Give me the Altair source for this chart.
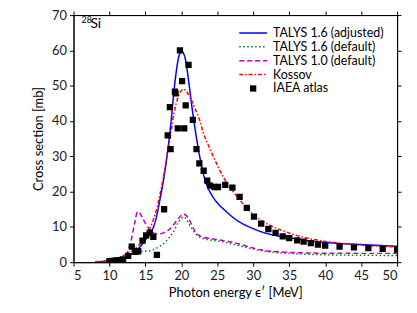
import altair as alt
import pandas as pd

# ---- data ----
SERIES = ["TALYS 1.6 (adjusted)", "TALYS 1.6 (default)", "TALYS 1.0 (default)", "Kossov"]
COLORS = ["#0000ff", "#008000", "#bf00bf", "#ff0000"]

E_ADJ = [8, 10, 11, 12, 13, 14, 15, 16, 16.5, 17, 17.5, 18, 18.5, 19, 19.5, 20, 20.5, 21, 21.5,
         22, 22.5, 23, 23.5, 24, 25, 26, 27, 28, 29, 30, 31, 32, 34, 36, 38, 40, 42, 45, 47, 50]
S_ADJ = [0.1, 0.3, 0.6, 1.0, 2.2, 3.8, 6.3, 9.3, 12.5, 17.5, 23, 30, 38.5, 49, 56.8, 59.8, 58, 51.5, 43.5,
         36.5, 30.5, 25.5, 22, 19.8, 16.8, 14.8, 13.0, 11.5, 10.4, 9.5, 8.7, 8.1, 7.2, 6.6, 6.0, 5.6, 5.3, 5.0, 4.8, 4.5]

E_T16 = [8, 10, 11, 12, 13, 14, 15, 16, 17, 18, 18.5, 19, 19.5, 20, 20.3, 20.7, 21, 21.5, 22, 22.5,
         23, 24, 25, 26, 27, 28, 29, 30, 31, 32, 34, 36, 38, 40, 43, 46, 50]
S_T16 = [0.1, 0.3, 0.6, 1.2, 2.2, 2.9, 3.1, 3.5, 4.5, 6.2, 7.5, 9.0, 11.0, 12.5, 12.8, 12.2, 11.1, 9.4, 8.0, 7.2,
         6.7, 6.3, 6.0, 5.7, 5.2, 4.7, 4.2, 3.7, 3.3, 3.0, 2.6, 2.4, 2.2, 2.1, 2.0, 1.95, 1.9]

E_T10 = [8, 10, 11, 12, 12.5, 13, 13.5, 13.9, 14.2, 14.6, 15, 15.5, 16, 16.5, 17, 17.5, 18, 18.5, 19, 19.5,
         20, 20.3, 20.7, 21, 21.5, 22, 22.5, 23, 24, 25, 26, 27, 28, 29, 30, 31, 32, 34, 36, 38, 40, 45, 50]
S_T10 = [0.1, 0.4, 0.8, 1.6, 2.8, 6.0, 11.0, 14.3, 14.0, 12.5, 11.0, 9.5, 8.5, 8.0, 8.0, 8.3, 8.8, 9.6, 10.8, 12.2,
         13.3, 13.6, 13.2, 12.4, 10.3, 8.5, 7.5, 7.1, 6.7, 6.4, 6.1, 5.7, 5.2, 4.6, 4.0, 3.5, 3.2, 2.9, 2.7, 2.6, 2.55, 2.5, 2.5]

E_KOS = [8, 9, 10, 11, 12, 13, 14, 15, 16, 16.5, 17, 17.5, 18, 18.5, 19, 19.5, 20, 20.3, 21, 22, 22.5,
         23, 24, 25, 26, 27, 28, 29, 30, 31, 32, 33, 34, 36, 38, 40, 42, 44, 46, 48, 50]
S_KOS = [0.1, 0.3, 0.6, 1.1, 1.9, 3.0, 4.6, 7.0, 11.5, 14.5, 19, 24, 30, 36, 42.5, 46.5, 48.6, 49, 47.5, 43, 40.5,
         37, 32, 27.5, 23.5, 20.5, 18, 15.5, 13.5, 12, 10.8, 9.8, 9.0, 7.6, 6.6, 5.9, 5.4, 5.0, 4.7, 4.5, 4.3]

IAEA_E = [10.0, 10.4, 10.9, 11.4, 11.9, 12.6, 13.1, 13.6, 14.0, 14.6, 15.1, 15.6, 16.1, 16.6, 17.6,
          18.1, 18.5, 18.4, 19.1, 19.2, 19.5, 19.8, 20.1, 20.4, 20.6, 21.0, 21.6, 22.1, 22.5, 23.1,
          23.6, 24.0, 24.6, 25.1, 26.1, 27.1, 28.1, 29.1, 30.1, 31.1, 32.1, 33.1, 34.1, 35.0, 36.1,
          37.0, 38.0, 39.0, 40.0, 42.0, 44.0, 46.0, 48.0, 50.0]
IAEA_S = [0.3, 0.4, 0.5, 0.6, 0.8, 1.8, 4.4, 2.9, 3.1, 6.1, 7.6, 8.4, 7.2, 2.1, 15.0,
          35.9, 32.0, 43.9, 48.3, 47.8, 37.9, 60.0, 51.3, 37.9, 44.4, 55.9, 40.3, 32.0, 28.0, 25.9,
          23.1, 21.7, 21.3, 21.3, 21.9, 21.1, 18.5, 15.4, 12.9, 10.9, 9.4, 8.3, 7.3, 6.8, 6.2,
          5.8, 5.4, 5.0, 4.7, 4.4, 4.2, 4.0, 3.8, 3.6]

X_TICKS = [5, 10, 15, 20, 25, 30, 35, 40, 45, 50]
Y_TICKS = [0, 10, 20, 30, 40, 50, 60, 70]

DASHES = [[1, 0], [1.5, 2.5], [5, 3], [4, 2, 1.5, 2]]
FONT = "Lato"

rows = []
for name, es, ss in zip(SERIES, [E_ADJ, E_T16, E_T10, E_KOS], [S_ADJ, S_T16, S_T10, S_KOS]):
    for e, s in zip(es, ss):
        rows.append({"series": name, "E": e, "S": s})
curves = pd.DataFrame(rows)
iaea = pd.DataFrame({"E": IAEA_E, "S": IAEA_S})
one = pd.DataFrame({"k": [0]})

xscale = alt.Scale(domain=[5, 50], nice=False, zero=False)
yscale = alt.Scale(domain=[0, 70], nice=False)

lines = alt.Chart(curves).mark_line(strokeWidth=1.5, interpolate="monotone", clip=True).encode(
    x=alt.X("E:Q", scale=xscale,
            axis=alt.Axis(title="Photon energy ϵ′ [MeV]", values=X_TICKS, labelPadding=3, titlePadding=5)),
    y=alt.Y("S:Q", scale=yscale,
            axis=alt.Axis(title="Cross section [mb]", values=Y_TICKS, labelPadding=3, titlePadding=6)),
    color=alt.Color("series:N", scale=alt.Scale(domain=SERIES, range=COLORS), legend=None),
    strokeDash=alt.StrokeDash("series:N", scale=alt.Scale(domain=SERIES, range=DASHES), legend=None),
    order=alt.Order("E:Q"),
)

points = alt.Chart(iaea).mark_point(shape="square", filled=True, size=40, color="black",
                                    opacity=1, clip=True).encode(
    x=alt.X("E:Q", scale=xscale,
            axis=alt.Axis(orient="top", labels=False, title=None, values=X_TICKS)),
    y=alt.Y("S:Q", scale=yscale,
            axis=alt.Axis(orient="right", labels=False, title=None, values=Y_TICKS)),
)

# ---- manual legend (upper right) ----
LEG_Y = [18, 32, 46, 60, 74]
legend_layers = []
for i, name in enumerate(SERIES):
    legend_layers.append(
        alt.Chart(one).mark_rule(color=COLORS[i], strokeWidth=1.5, strokeDash=DASHES[i]).encode(
            x=alt.value(167), x2=alt.value(195), y=alt.value(LEG_Y[i]))
    )
    legend_layers.append(
        alt.Chart(one).mark_text(text=name, align="left", baseline="middle", font=FONT,
                                 fontSize=12.5, color="black").encode(
            x=alt.value(201), y=alt.value(LEG_Y[i]))
    )
legend_layers.append(
    alt.Chart(one).mark_point(shape="square", filled=True, size=40, color="black", opacity=1).encode(
        x=alt.value(181), y=alt.value(LEG_Y[4]))
)
legend_layers.append(
    alt.Chart(one).mark_text(text="IAEA atlas", align="left", baseline="middle", font=FONT,
                             fontSize=12.5, color="black").encode(
        x=alt.value(201), y=alt.value(LEG_Y[4]))
)

iso_sup = alt.Chart(one).mark_text(text="28", align="left", baseline="middle", font=FONT,
                                   fontSize=9, color="black").encode(x=alt.value(8), y=alt.value(5))
iso_el = alt.Chart(one).mark_text(text="Si", align="left", baseline="middle", font=FONT,
                                  fontSize=14, color="black").encode(x=alt.value(17), y=alt.value(9))

chart = alt.layer(lines, points, *legend_layers, iso_sup, iso_el).resolve_axis(
    x="independent", y="independent"
).properties(
    width=326, height=249,
    padding={"left": 66, "top": 6, "right": 12, "bottom": 40},
    autosize=alt.AutoSizeParams(type="none"),
).configure_view(
    stroke="black", strokeWidth=1
).configure_axis(
    grid=False, tickColor="black", tickSize=4, tickWidth=1, domainColor="black", domainWidth=1,
    labelFont=FONT, labelFontSize=13, labelColor="#222222",
    titleFont=FONT, titleFontSize=13, titleFontWeight="normal", titleColor="black",
)

chart.save("out.html", embed_options={"renderer": "svg", "actions": False})
